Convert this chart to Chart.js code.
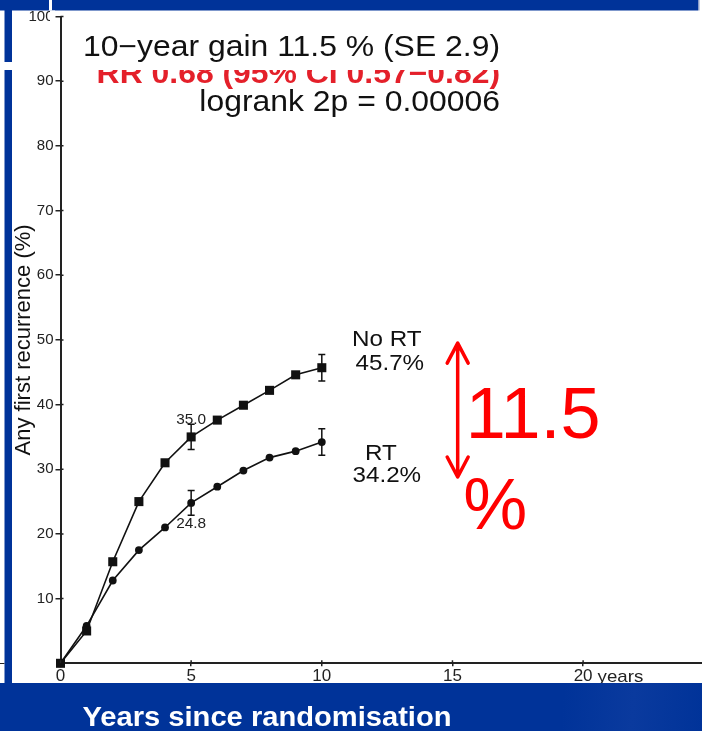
<!DOCTYPE html>
<html>
<head>
<meta charset="utf-8">
<script src="https://cdn.jsdelivr.net/npm/chart.js@4.4.1/dist/chart.umd.min.js"></script>
<style>
  html, body { margin: 0; padding: 0; background: #fff; overflow: hidden; }
  canvas { display: block; }
</style>
</head>
<body>
<canvas id="c" width="702" height="731"></canvas>
<script>
// Cumulative risk of any first recurrence (%) by year since randomisation
const years = [0, 1, 2, 3, 4, 5, 6, 7, 8, 9, 10];
const noRT  = [0, 5.0, 15.7, 25.0, 31.0, 35.0, 37.6, 39.9, 42.2, 44.6, 45.7];
const rt    = [0, 5.8, 12.8, 17.5, 21.0, 24.8, 27.3, 29.8, 31.8, 32.8, 34.2];

// Standard-error bars shown at 5 and 10 years
const errYears = [5, 10];
const noRTErr  = [1.95, 2.05];
const rtErr    = [1.9, 2.05];

// Axis ticks
const xTicks = [0, 5, 10, 15, 20];
const yTicks = [10, 20, 30, 40, 50, 60, 70, 80, 90, 100];

const FONT = '"Liberation Sans", Arial, Helvetica, sans-serif';
const BLUE = '#003399';
const INK = '#111';
const AXIS = '#222';

function sText(ctx, txt, x, y, font, color, align, sx) {
  ctx.save();
  ctx.font = font;
  ctx.fillStyle = color;
  ctx.textAlign = align;
  ctx.textBaseline = 'alphabetic';
  ctx.translate(x, y);
  ctx.scale(sx === undefined ? 1.1 : sx, 1);
  ctx.fillText(txt, 0, 0);
  ctx.restore();
}

const idx = y => years.indexOf(y);

const slidePlugin = {
  id: 'slide',
  beforeDraw(chart) {
    const ctx = chart.ctx;
    ctx.save();
    ctx.fillStyle = '#fff';
    ctx.fillRect(0, 0, chart.width, chart.height);
    // rate-ratio line, partly covered by the panel above it
    sText(ctx, 'RR 0.68 (95% CI 0.57\u22120.82)', 500, 83, 'bold 29px ' + FONT, '#e4202a', 'right');
    ctx.fillStyle = '#fff';
    ctx.fillRect(12, 10, 685, 60);
    ctx.restore();
  },
  afterDraw(chart) {
    const ctx = chart.ctx;
    const xs = chart.scales.x, ys = chart.scales.y;
    const area = chart.chartArea;
    const px = v => xs.getPixelForValue(v);
    const py = v => ys.getPixelForValue(v);
    ctx.save();

    // inner halves of the axis tick marks
    ctx.strokeStyle = AXIS;
    ctx.lineWidth = 1.5;
    ctx.beginPath();
    yTicks.forEach(v => { ctx.moveTo(area.left, py(v)); ctx.lineTo(area.left + 3, py(v)); });
    xTicks.forEach(v => { ctx.moveTo(px(v), area.bottom); ctx.lineTo(px(v), area.bottom - 3); });
    ctx.stroke();

    // error bars
    ctx.strokeStyle = INK;
    ctx.lineWidth = 1.5;
    const bar = (x, y, e) => {
      const X = px(x), T = py(y + e), B = py(y - e);
      ctx.beginPath();
      ctx.moveTo(X, T); ctx.lineTo(X, B);
      ctx.moveTo(X - 3.5, T); ctx.lineTo(X + 3.5, T);
      ctx.moveTo(X - 3.5, B); ctx.lineTo(X + 3.5, B);
      ctx.stroke();
    };
    errYears.forEach((y, i) => {
      bar(y, noRT[idx(y)], noRTErr[i]);
      bar(y, rt[idx(y)], rtErr[i]);
    });

    // 5-year values
    const v5a = noRT[idx(5)], v5b = rt[idx(5)];
    sText(ctx, v5a.toFixed(1), px(5), py(v5a) - 13, '14px ' + FONT, '#222', 'center');
    sText(ctx, v5b.toFixed(1), px(5), py(v5b) + 25, '14px ' + FONT, '#222', 'center');

    // 10-year labels
    const v10a = noRT[idx(10)], v10b = rt[idx(10)];
    sText(ctx, 'No RT', px(10) + 65, py(v10a) - 22, '22px ' + FONT, INK, 'center');
    sText(ctx, v10a.toFixed(1) + '%', px(10) + 68, py(v10a) + 2, '22px ' + FONT, INK, 'center');
    sText(ctx, 'RT', px(10) + 59, py(v10b) + 18, '22px ' + FONT, INK, 'center');
    sText(ctx, v10b.toFixed(1) + '%', px(10) + 65, py(v10b) + 40, '22px ' + FONT, INK, 'center');

    // difference arrow
    const ax = px(15.2), aT = py(49.5), aB = py(28.8);
    ctx.strokeStyle = '#ff0000';
    ctx.lineWidth = 3.5;
    ctx.lineCap = 'round';
    ctx.lineJoin = 'round';
    ctx.beginPath();
    ctx.moveTo(ax, aT); ctx.lineTo(ax, aB);
    ctx.moveTo(ax - 10.5, aT + 20); ctx.lineTo(ax, aT); ctx.lineTo(ax + 10.5, aT + 20);
    ctx.moveTo(ax - 10.5, aB - 20); ctx.lineTo(ax, aB); ctx.lineTo(ax + 10.5, aB - 20);
    ctx.stroke();
    const gain = (v10a - v10b).toFixed(1);
    sText(ctx, gain, ax + 8, py(34.8), '72px ' + FONT, '#ff0000', 'left', 1);
    sText(ctx, '%', ax + 5.5, py(20.8), '72px ' + FONT, '#ff0000', 'left', 1);

    // unit after the last x tick
    ctx.font = '17px ' + FONT;
    const w20 = ctx.measureText('20').width;
    sText(ctx, 'years', px(20) + w20 / 2 + 5, 682, '17px ' + FONT, '#222', 'left', 1.1);

    // summary lines at the top
    sText(ctx, '10\u2212year gain 11.5 % (SE 2.9)', 500, 56, '29px ' + FONT, INK, 'right');
    sText(ctx, 'logrank 2p = 0.00006', 500, 111, '29px ' + FONT, INK, 'right');

    // slide frame
    ctx.fillStyle = BLUE;
    ctx.fillRect(0, 0, 698, 10.5);
    ctx.fillRect(4.5, 10, 7.5, 52);
    ctx.fillRect(4.5, 70, 7.5, 613);
    ctx.fillStyle = '#fff';
    ctx.fillRect(49, 0, 3, 10.5);
    ctx.fillRect(50, 10.5, 5, 14);
    ctx.fillStyle = '#8a9cc8';
    ctx.fillRect(698, 0, 1.5, 10.5);

    ctx.strokeStyle = '#222';
    ctx.lineWidth = 1.2;
    ctx.beginPath(); ctx.moveTo(0, 663.5); ctx.lineTo(4, 663.5); ctx.stroke();

    const g = ctx.createLinearGradient(0, 683, 702, 731);
    g.addColorStop(0, '#003399');
    g.addColorStop(0.8, '#003399');
    g.addColorStop(0.9, '#0a3a9e');
    g.addColorStop(1, '#003399');
    ctx.fillStyle = g;
    ctx.fillRect(0, 683, 702, 48);
    ctx.fillStyle = '#fff';
    ctx.font = 'bold 28px ' + FONT;
    ctx.textAlign = 'center';
    ctx.textBaseline = 'alphabetic';
    ctx.save();
    ctx.translate(267, 726);
    ctx.scale(1.04, 1);
    ctx.fillText('Years since randomisation', 0, 0);
    ctx.restore();

    ctx.restore();
  }
};

new Chart(document.getElementById('c'), {
  type: 'line',
  data: {
    datasets: [
      {
        label: 'No RT',
        data: years.map((x, i) => ({ x, y: noRT[i] })),
        borderColor: INK,
        backgroundColor: INK,
        borderWidth: 1.6,
        pointStyle: 'rect',
        pointRadius: 6.4,
        pointBorderWidth: 0,
        pointBackgroundColor: INK,
        tension: 0,
        clip: false
      },
      {
        label: 'RT',
        data: years.map((x, i) => ({ x, y: rt[i] })),
        borderColor: INK,
        backgroundColor: INK,
        borderWidth: 1.6,
        pointStyle: 'circle',
        pointRadius: 3.9,
        pointBorderWidth: 0,
        pointBackgroundColor: INK,
        tension: 0,
        clip: false
      }
    ]
  },
  options: {
    responsive: false,
    animation: false,
    devicePixelRatio: 1,
    layout: { autoPadding: false, padding: { top: 16.5, right: 0, bottom: 0, left: 0 } },
    plugins: { legend: { display: false }, tooltip: { enabled: false } },
    scales: {
      x: {
        type: 'linear',
        min: 0,
        max: 24.55,
        afterBuildTicks: s => { s.ticks = xTicks.map(v => ({ value: v })); },
        afterFit: s => { s.height = 67.7; s.paddingLeft = 0; s.paddingRight = 0; },
        grid: { drawOnChartArea: false, tickLength: 3, color: AXIS, lineWidth: 1.5 },
        border: { color: AXIS, width: 2 },
        ticks: {
          color: '#222',
          font: { size: 17, family: FONT },
          padding: 0,
          maxRotation: 0,
          autoSkip: false,
          callback: v => String(v)
        }
      },
      y: {
        type: 'linear',
        min: 0,
        max: 100,
        afterBuildTicks: s => { s.ticks = yTicks.map(v => ({ value: v })); },
        afterFit: s => { s.width = 60.5; s.paddingTop = 0; s.paddingBottom = 0; },
        grid: { drawOnChartArea: false, tickLength: 5, color: AXIS, lineWidth: 1.5 },
        border: { color: AXIS, width: 2 },
        ticks: {
          color: '#222',
          font: { size: 15, family: FONT },
          padding: 2,
          autoSkip: false,
          callback: v => String(v)
        },
        title: {
          display: true,
          text: 'Any first recurrence (%)',
          color: INK,
          font: { size: 22, family: FONT },
          padding: { top: 11, bottom: 0 }
        }
      }
    }
  },
  plugins: [slidePlugin]
});
</script>
</body>
</html>
